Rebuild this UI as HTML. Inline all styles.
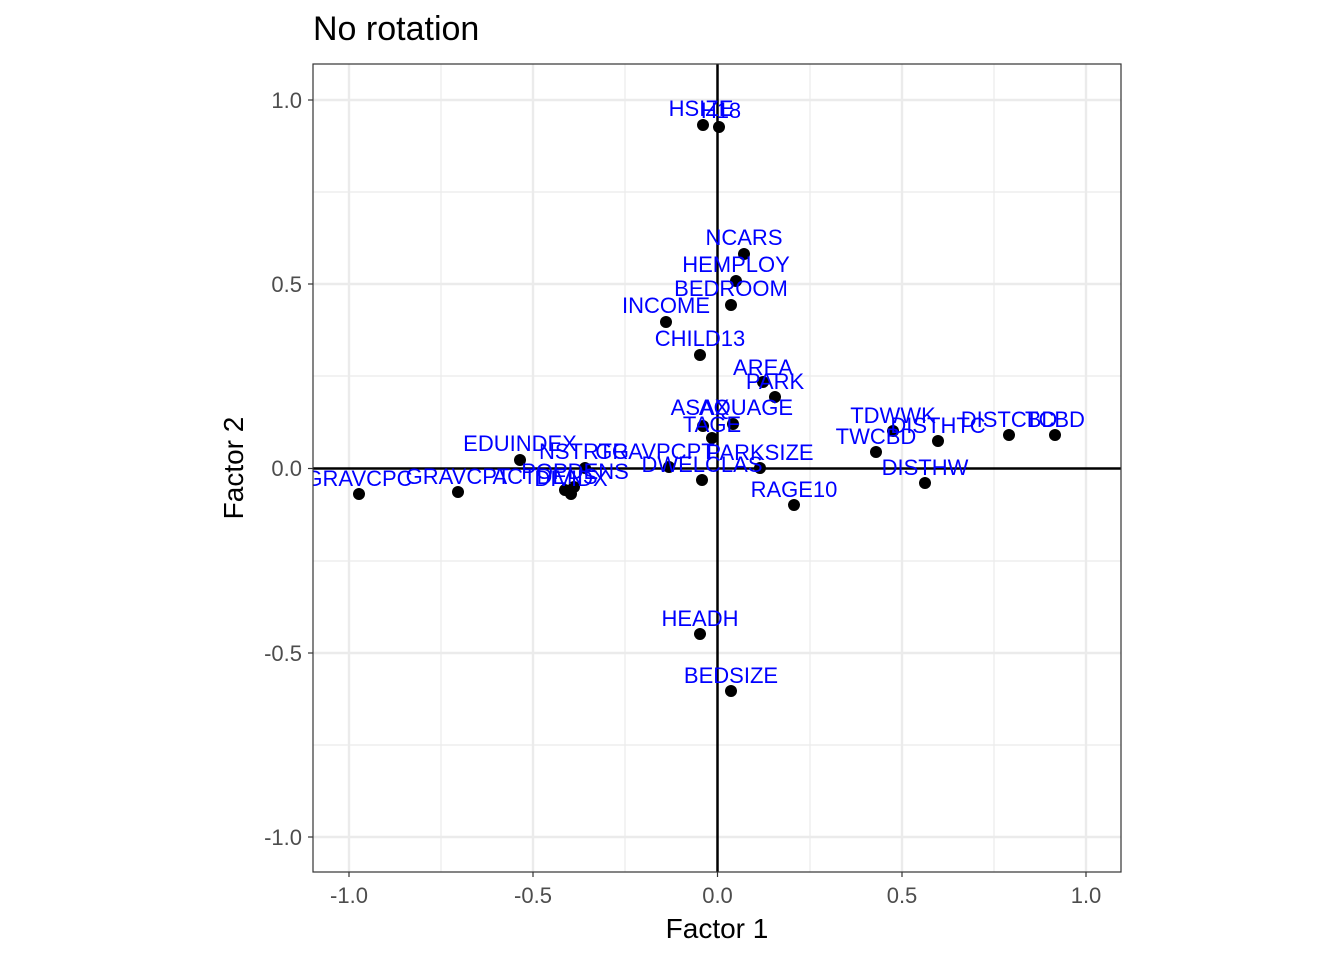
<!DOCTYPE html><html><head><style>body{margin:0;background:#fff}</style></head><body>
<svg width="1344" height="960" xmlns="http://www.w3.org/2000/svg" font-family="Liberation Sans, sans-serif">
<rect x="313" y="64" width="808" height="808" fill="#fff"/>
<g stroke="#ebebeb" stroke-width="1.2">
<line x1="441" y1="64" x2="441" y2="872"/><line x1="625" y1="64" x2="625" y2="872"/><line x1="810" y1="64" x2="810" y2="872"/><line x1="994" y1="64" x2="994" y2="872"/>
<line x1="313" y1="192" x2="1121" y2="192"/><line x1="313" y1="376" x2="1121" y2="376"/><line x1="313" y1="561" x2="1121" y2="561"/><line x1="313" y1="745" x2="1121" y2="745"/>
</g>
<g stroke="#ebebeb" stroke-width="2.4">
<line x1="349" y1="64" x2="349" y2="872"/><line x1="533" y1="64" x2="533" y2="872"/><line x1="902" y1="64" x2="902" y2="872"/><line x1="1086" y1="64" x2="1086" y2="872"/>
<line x1="313" y1="100" x2="1121" y2="100"/><line x1="313" y1="284" x2="1121" y2="284"/><line x1="313" y1="653" x2="1121" y2="653"/><line x1="313" y1="837" x2="1121" y2="837"/>
</g>
<line x1="717.5" y1="64" x2="717.5" y2="872" stroke="#000" stroke-width="2.5"/>
<line x1="313" y1="468.5" x2="1121" y2="468.5" stroke="#000" stroke-width="2.5"/>
<g fill="#000">
<circle cx="703" cy="125" r="6"/><circle cx="719" cy="127" r="6"/><circle cx="744" cy="254" r="6"/><circle cx="736" cy="281" r="6"/><circle cx="731" cy="305" r="6"/><circle cx="666" cy="322" r="6"/><circle cx="700" cy="355" r="6"/><circle cx="763" cy="382" r="6"/><circle cx="775" cy="397" r="6"/><circle cx="703" cy="426" r="6"/><circle cx="733" cy="424" r="6"/><circle cx="712" cy="438" r="6"/><circle cx="520" cy="460" r="6"/><circle cx="585" cy="468" r="6"/><circle cx="669" cy="467" r="6"/><circle cx="760" cy="468" r="6"/><circle cx="702" cy="480" r="6"/><circle cx="565" cy="490" r="6"/><circle cx="571" cy="494" r="6"/><circle cx="574" cy="487" r="6"/><circle cx="359" cy="494" r="6"/><circle cx="458" cy="492" r="6"/><circle cx="794" cy="505" r="6"/><circle cx="893" cy="431" r="6"/><circle cx="938" cy="441" r="6"/><circle cx="1009" cy="435" r="6"/><circle cx="1055" cy="435" r="6"/><circle cx="876" cy="452" r="6"/><circle cx="925" cy="483" r="6"/><circle cx="700" cy="634" r="6"/><circle cx="731" cy="691" r="6"/>
</g>
<g fill="#0000ff" font-size="22" text-anchor="middle">
<text x="701" y="116">HSIZE</text><text x="721" y="118">H18</text><text x="744" y="245">NCARS</text><text x="736" y="272">HEMPLOY</text><text x="731" y="296">BEDROOM</text><text x="666" y="313">INCOME</text><text x="700" y="346">CHILD13</text><text x="763" y="375">AREA</text><text x="775" y="389">PARK</text><text x="700" y="415">ASAX</text><text x="746" y="415">AQUAGE</text><text x="712" y="432">TAGE</text><text x="520" y="451">EDUINDEX</text><text x="584" y="459">NSTRTG</text><text x="655" y="459">GRAVPCPT</text><text x="760" y="460">PARKSIZE</text><text x="702" y="472">DWELCLAS</text><text x="575" y="479">POPDENS</text><text x="571" y="486">DIVIDX</text><text x="359" y="486">GRAVCPC</text><text x="458" y="484">GRAVCPT</text><text x="545" y="484">ACTDENS</text><text x="794" y="497">RAGE10</text><text x="893" y="423">TDWWK</text><text x="938" y="433">DISTHTC</text><text x="1009" y="427">DISTCBD</text><text x="1055" y="427">TCBD</text><text x="876" y="444">TWCBD</text><text x="925" y="475">DISTHW</text><text x="700" y="626">HEADH</text><text x="731" y="683">BEDSIZE</text>
</g>
<rect x="0" y="0" width="313" height="960" fill="#fff"/>
<rect x="313" y="64" width="808" height="808" fill="none" stroke="#333" stroke-width="1.2"/>
<g stroke="#333" stroke-width="1.2">
<line x1="308" y1="100" x2="313" y2="100"/><line x1="308" y1="284" x2="313" y2="284"/><line x1="308" y1="468.5" x2="313" y2="468.5"/><line x1="308" y1="653" x2="313" y2="653"/><line x1="308" y1="837" x2="313" y2="837"/>
<line x1="349" y1="872" x2="349" y2="877"/><line x1="533" y1="872" x2="533" y2="877"/><line x1="717.5" y1="872" x2="717.5" y2="877"/><line x1="902" y1="872" x2="902" y2="877"/><line x1="1086" y1="872" x2="1086" y2="877"/>
</g>
<g fill="#4d4d4d" font-size="22" text-anchor="end">
<text x="302" y="108">1.0</text><text x="302" y="292">0.5</text><text x="302" y="476">0.0</text><text x="302" y="661">-0.5</text><text x="302" y="845">-1.0</text>
</g>
<g fill="#4d4d4d" font-size="22" text-anchor="middle">
<text x="349" y="903">-1.0</text><text x="533" y="903">-0.5</text><text x="717.5" y="903">0.0</text><text x="902" y="903">0.5</text><text x="1086" y="903">1.0</text>
</g>
<text x="717" y="938" font-size="28" text-anchor="middle">Factor 1</text>
<text x="0" y="0" font-size="28" text-anchor="middle" transform="translate(243,468) rotate(-90)">Factor 2</text>
<text x="313" y="40" font-size="34">No rotation</text>
</svg></body></html>
